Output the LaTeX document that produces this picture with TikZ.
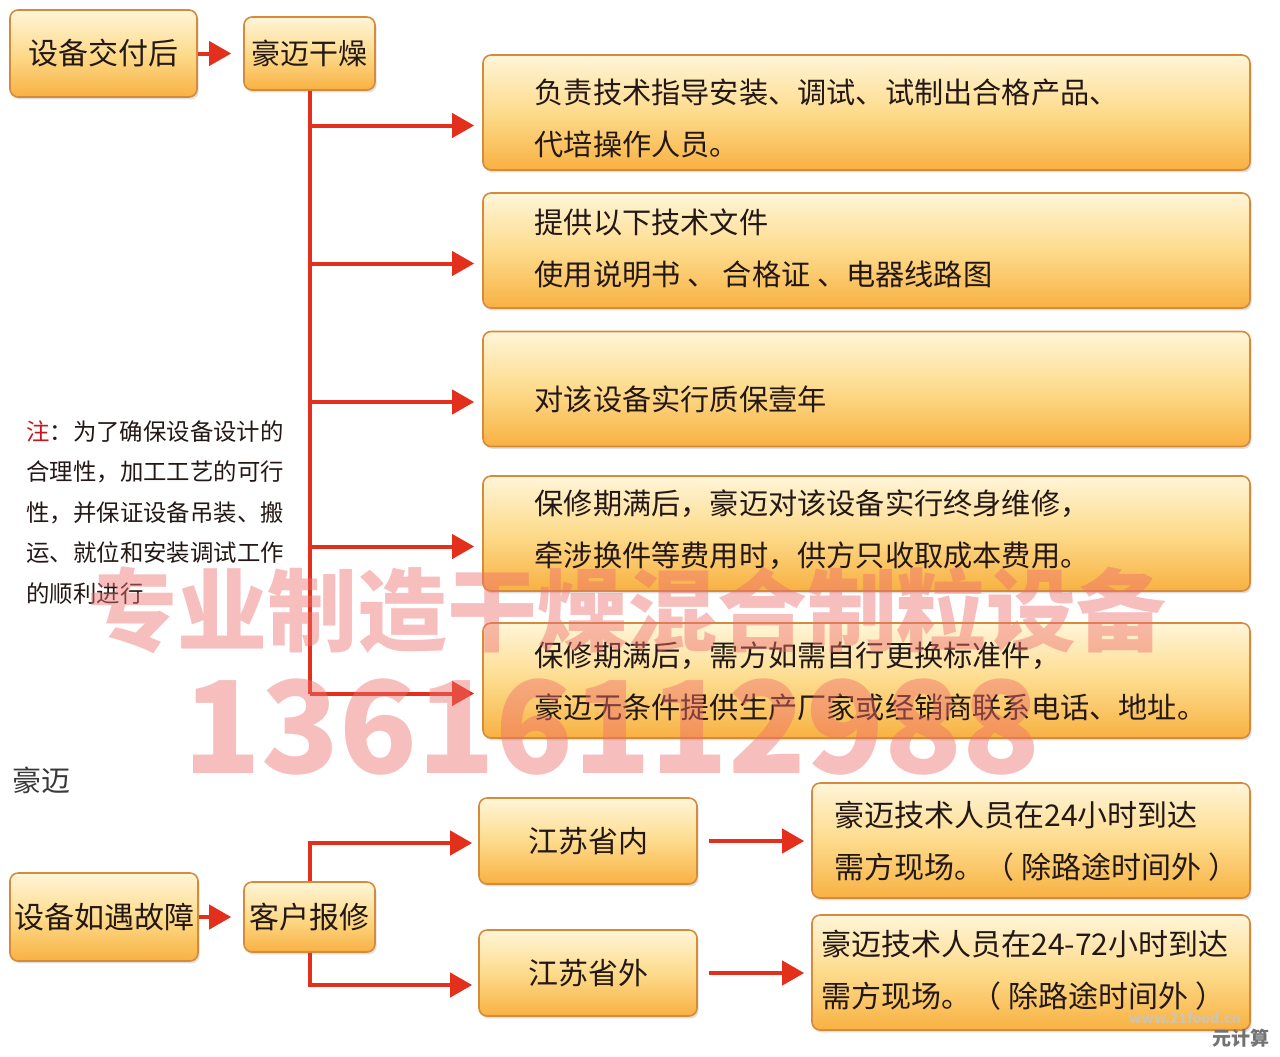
\documentclass[tikz,border=0pt]{standalone}
\usepackage{fontspec}
\setmainfont{Noto Sans CJK SC}
\usetikzlibrary{arrows.meta}
\usetikzlibrary{positioning}
\usetikzlibrary{shadows}
\definecolor{boxtop}{HTML}{FFF5D8}
\definecolor{boxmid}{HTML}{FDDB8C}
\definecolor{boxbot}{HTML}{F8B142}
\definecolor{boxline}{HTML}{D68A3C}
\definecolor{arrred}{HTML}{E2301C}
\definecolor{txt}{HTML}{231815}
\definecolor{notered}{HTML}{C8161D}
\definecolor{wmpink}{HTML}{EE6F6F}
\tikzset{box/.style = {draw=boxline, line width=0.8pt, rounded corners=4pt, top color=boxtop, bottom color=boxbot, middle color=boxmid, drop shadow={shadow xshift=0.8pt, shadow yshift=-1.2pt, opacity=0.25}, text=txt, inner sep=0pt, font=\fontsize{15}{18}\selectfont}}
\tikzset{wide/.style = {box, minimum width=383.5pt, minimum height=57.5pt}}
\tikzset{far/.style = {box, minimum width=219pt, minimum height=57.5pt}}
\tikzset{boxtext/.style = {anchor=west, align=left, text=txt, inner sep=0pt, font=\fontsize{14.6}{26}\selectfont}}
\tikzset{arr/.style = {draw=arrred, line width=2pt, -{Triangle[length=11pt, width=12pt]}}}
\tikzset{trunk/.style = {draw=arrred, line width=2pt}}

\begin{document}
\begin{tikzpicture}[x=0.5pt, y=-0.5pt]
\useasboundingbox (0,0) rectangle (1280,1056);
\node [box, minimum width=93.5pt, minimum height=43.5pt] (deliver) at (103.5,53.5) {设备交付后};
\node [box, minimum width=65.5pt, minimum height=36.5pt, font=\fontsize{14.5}{18}\selectfont] (haomai) at (309.5,53.5) {豪迈干燥};
\node [wide] (guide) at (866.5,112.5) {};
\node [wide] (docs) at (866.5,250.5) {};
\node [wide] (warranty) at (866.5,389) {};
\node [wide] (repair) at (866.5,533.5) {};
\node [wide] (parts) at (866.5,680.5) {};
\node [boxtext] (guidet) at ([xshift=26pt, yshift=-3pt]guide.west) {负责技术指导安装、调试、试制出合格产品、\\代培操作人员。};
\node [boxtext] (docst) at ([xshift=26pt, yshift=1pt]docs.west) {提供以下技术文件\\使用说明书 、 合格证 、电器线路图};
\node [boxtext] (warrantyt) at ([xshift=26pt, yshift=-5pt]warranty.west) {对该设备实行质保壹年};
\node [boxtext] (repairt) at ([xshift=26pt, yshift=2pt]repair.west) {保修期满后，豪迈对该设备实行终身维修，\\牵涉换件等费用时，供方只收取成本费用。};
\node [boxtext] (partst) at ([xshift=26pt, yshift=-0.5pt]parts.west) {保修期满后，需方如需自行更换标准件，\\豪迈无条件提供生产厂家或经销商联系电话、地址。};
\draw [arr, shorten >=6pt] (deliver) -- (haomai);
\foreach \b in {guide,docs,warranty,repair,parts} {
  \coordinate (\b-in) at ([yshift=-6.5pt]\b.west);
}
\draw [trunk] (haomai.south) -- (haomai.south |- parts-in);
\foreach \b in {guide,docs,warranty,repair,parts} {
  \draw [arr, shorten >=4pt] (haomai.south |- \b-in) -- (\b-in);
}
\node [anchor=north west, align=left, inner sep=0pt, text=txt, font=\fontsize{11.7}{20.25}\selectfont] (note) at (26,420) {\textcolor{notered}{注}：为了确保设备设计的\\合理性，加工工艺的可行\\性，并保证设备吊装、搬\\运、就位和安装调试工作\\的顺利进行};
\node [text=black!78, inner sep=0pt, font=\fontsize{14.5}{18}\selectfont] (brand) at (41,780) {豪迈};
\node [box, minimum width=94pt, minimum height=44pt] (fault) at (104,917) {设备如遇故障};
\node [box, minimum width=65.5pt, minimum height=35pt] (report) at (309.5,917) {客户报修};
\node [box, minimum width=109pt, minimum height=43pt] (inside) at (588,841) {江苏省内};
\node [box, minimum width=109pt, minimum height=43pt] (outside) at (588,973) {江苏省外};
\node [far] (fast) at (1031,840.5) {};
\node [far] (slow) at (1031,972.5) {};
\node [boxtext, font=\fontsize{15}{26}\selectfont] (fastt) at ([xshift=11.5pt, yshift=-0.5pt]fast.west) {豪迈技术人员在24小时到达\\需方现场。（ 除路途时间外 ）};
\node [boxtext, font=\fontsize{15}{26}\selectfont] (slowt) at ([xshift=5pt, yshift=1pt]slow.west) {豪迈技术人员在24-72小时到达\\需方现场。（ 除路途时间外 ）};
\draw [arr, shorten >=6pt] (fault) -- (report);
\draw [arr, shorten >=3pt] (report.north) |- ([yshift=-1pt]inside.west);
\draw [arr, shorten >=3pt] (report.south) |- ([yshift=-6pt]outside.west);
\draw [arr, shorten <=5.5pt, shorten >=3.5pt] (inside) -- (inside -| fast.west);
\draw [arr, shorten <=5.5pt, shorten >=3.5pt] (outside) -- (outside -| slow.west);
\node [text=wmpink, opacity=0.45, inner sep=0pt, font=\fontsize{45}{50}\bfseries] (wmtext) at (627,610) {专业制造干燥混合制粒设备};
\node [text=wmpink, opacity=0.45, inner sep=0pt, font=\fontsize{64}{70}\bfseries] (wmphone) at (612,727) {13616112988};
\node [text=white!55!gray, opacity=0.8, inner sep=0pt, font=\fontsize{7}{8}\bfseries] (wmsite) at (1185,1018) {www.21food.cn};
\node [text=black!55, inner sep=0pt, font=\fontsize{9.5}{10}\bfseries] (wmcalc) at (1241,1038) {元计算};
\end{tikzpicture}
\end{document}
